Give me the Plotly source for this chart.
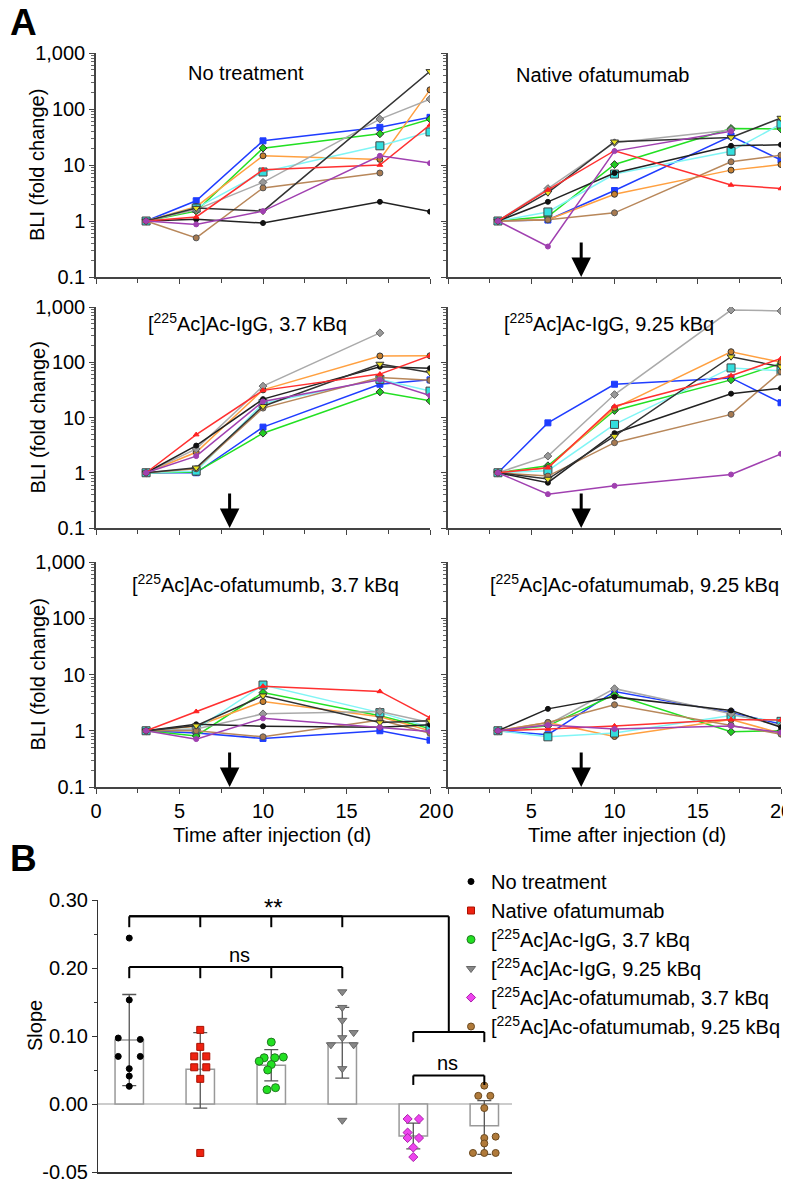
import plotly.graph_objects as go

# ---------------- DATA ----------------
days = [3, 6, 10, 17, 20]
# mouse order: blue, green, orange, cyan, gray, brown, black, black/yellow, red, purple
no_treatment = [
    [1, 2.3, 27, 47, 71],
    [1, 1.5, 20, 36, 66],
    [1, 1.8, 14.6, 12.6, 220],
    [1, 1.7, 7.5, 22, 39],
    [1, 1.6, 4.9, 66, 150],
    [1, 0.5, 3.9, 7.2, None],
    [1, 1.07, 0.92, 2.2, 1.47],
    [1, 1.7, 1.5, None, 470],
    [1, 1.18, 8.2, 10, 52],
    [1, 0.87, 1.5, 14.6, 10.8],
]
native_ofa = [
    [1, 1.04, 3.5, 33, 12.3],
    [1, 1.2, 10.2, 45, 44],
    [1, 1.05, 3.0, 8.1, 10.2],
    [1, 1.45, 6.9, 17.6, 54],
    [1, 3.8, 25, 42, None],
    [1, 1.05, 1.4, 11.4, 15],
    [1, 2.2, 7.2, 22, 23],
    [1, 3.2, 26, 31, 69],
    [1, 3.6, 18, 4.4, 3.8],
    [1, 0.35, 17.7, 40, None],
]
igg_37 = [
    [1, 1.0, 6.7, 40, 48],
    [1, 1.03, 5.2, 29, 20],
    [1, 2.35, 31.6, 130, 131],
    [1, 1.07, 18, 49, 30],
    [1, 2.7, 37, 340, None],
    [1, 1.18, 14.8, 53, 47],
    [1, 3.1, 21.5, 83, 78],
    [1, 1.23, 16, 93, 65],
    [1, 4.9, 31, 61, 131],
    [1, 2.0, 19.5, 48, 25],
]
igg_925 = [
    [1, 8.0, 40, 52, 18.5],
    [1, 1.34, 13.4, 48, 95],
    [1, 1.23, 14.8, 155, 100],
    [1, 1.09, 7.5, 79, 70],
    [1, 2.0, 26, 880, 850],
    [1, 0.87, 3.5, 11.4, 68],
    [1, 0.66, 5.2, 27, 34],
    [1, 0.77, 4.6, 126, 83],
    [1, 1.23, 16, 57, 117],
    [1, 0.41, 0.58, 0.93, 2.2],
]
ac_ofa_37 = [
    [1, 0.91, 0.73, 1.0, 0.68],
    [1, 0.81, 4.8, 1.85, 1.1],
    [1, 1.2, 3.3, 1.78, 1.0],
    [1, 1.07, 6.5, 2.1, 1.15],
    [1, 1.07, 2.0, 2.2, 1.4],
    [1, 1.0, 0.78, 1.55, 0.9],
    [1, 1.3, 1.2, 1.15, 1.28],
    [1, 1.23, 4.2, 1.4, 1.5],
    [1, 2.2, 6.2, 5.0, 1.7],
    [1, 0.71, 1.66, 1.15, 0.97],
]
ac_ofa_925 = [
    [1, 0.85, 5.0, 2.1, 1.32],
    [1, 1.22, 4.4, 0.96, 1.0],
    [1, 1.4, 0.79, 1.58, 0.9],
    [1, 0.78, 0.91, 1.86, 1.47],
    [1, 1.28, 5.6, 2.0, 1.22],
    [1, 1.4, 2.9, 1.26, 0.87],
    [1, 2.45, 4.0, 2.3, 1.15],
    [None, None, None, None, None],
    [1, 1.07, 1.22, 1.58, 1.55],
    [1, 1.26, 1.07, 1.22, 0.93],
]
panel_titles = [
    "No treatment",
    "Native ofatumumab",
    "[<sup>225</sup>Ac]Ac-IgG, 3.7 kBq",
    "[<sup>225</sup>Ac]Ac-IgG, 9.25 kBq",
    "[<sup>225</sup>Ac]Ac-ofatumumb, 3.7 kBq",
    "[<sup>225</sup>Ac]Ac-ofatumumab, 9.25 kBq",
]
treatment_day = 8
ytick_vals = [0.1, 1, 10, 100, 1000]
ytick_text = ["0.1", "1", "10", "100", "1,000"]
xtick_vals = [0, 5, 10, 15, 20]

# Panel B (slopes)
groups = [
    "No treatment",
    "Native ofatumumab",
    "[<sup>225</sup>Ac]Ac-IgG, 3.7 kBq",
    "[<sup>225</sup>Ac]Ac-IgG, 9.25 kBq",
    "[<sup>225</sup>Ac]Ac-ofatumumab, 3.7 kBq",
    "[<sup>225</sup>Ac]Ac-ofatumumab, 9.25 kBq",
]
slope_means = [0.094, 0.051, 0.057, 0.090, -0.0235, -0.016]
slope_sds = [0.067, 0.054, 0.023, 0.052, 0.0095, 0.021]
slopes_no_treatment = [0.244, 0.153, 0.097, 0.095, 0.070, 0.070, 0.052, 0.041, 0.026]
slopes_native = [0.109, 0.084, 0.070, 0.070, 0.054, 0.054, 0.037, -0.036]
slopes_igg_37 = [0.091, 0.069, 0.068, 0.068, 0.063, 0.058, 0.050, 0.024, 0.021]
slopes_igg_925 = [0.165, 0.142, 0.123, 0.105, 0.0975, 0.087, 0.087, 0.052, -0.012]
slopes_ofa_37 = [-0.011, -0.011, -0.021, -0.025, -0.025, -0.032, -0.039]
slopes_ofa_925 = [0.027, 0.012, 0.012, -0.003, -0.024, -0.025, -0.029, -0.036, -0.036, -0.036]
slope_ticks = [-0.05, 0.0, 0.10, 0.20, 0.30]

# ---------------- STYLES / LAYOUT ----------------
OFF = 8                      # page margin around the plot div
W, H = 791 - OFF, 1182 - OFF
FONT = "Liberation Sans, Arial, Helvetica, sans-serif"
FS = 20

def px(x):
    return (x - OFF) / W

def py(y):
    return 1 - (y - OFF) / H

mouse_styles = [
    dict(line="#1f3dff", sym="square", fill="#1f3dff", edge="#1f3dff", size=6),
    dict(line="#22e022", sym="diamond", fill="#22cc22", edge="#333333", size=6),
    dict(line="#ffa040", sym="circle", fill="#c8802e", edge="#333333", size=6),
    dict(line="#80f5f5", sym="square", fill="#33dede", edge="#444444", size=8),
    dict(line="#aaaaaa", sym="diamond", fill="#999999", edge="#666666", size=6),
    dict(line="#b8875a", sym="circle", fill="#a87a50", edge="#555555", size=6),
    dict(line="#222222", sym="circle", fill="#111111", edge="#111111", size=5),
    dict(line="#333333", sym="triangle-down", fill="#e8e020", edge="#333333", size=7),
    dict(line="#ff3030", sym="triangle-up", fill="#ff2020", edge="#ff2020", size=5),
    dict(line="#a040b0", sym="circle", fill="#a040b0", edge="#a040b0", size=5),
]

panels = [no_treatment, native_ofa, igg_37, igg_925, ac_ofa_37, ac_ofa_925]
col_x = [(96, 430), (448, 781)]
row_y = [(53, 277), (307, 528), (562, 787)]
title_pos = [(246, 73), (602, 75), (248, 322), (609, 322), (265, 583), (634, 583)]
has_arrow = [False, True, True, True, True, True]

fig = go.Figure()
annotations = []
layout_axes = {}

minor_log = [m * 10 ** e for e in range(-1, 3) for m in range(2, 10)]

def note(text, x, y, size=FS, angle=0, xref="paper", yref="paper", xanchor="center"):
    return dict(text=text, x=x, y=y, xref=xref, yref=yref, showarrow=False,
                xanchor=xanchor, yanchor="middle", textangle=angle,
                font=dict(size=size, color="black"))

for i, data in enumerate(panels):
    n = i + 1
    r, c = divmod(i, 2)
    xa = "x" if n == 1 else f"x{n}"
    ya = "y" if n == 1 else f"y{n}"
    for mouse, st in zip(data, mouse_styles):
        if all(v is None for v in mouse):
            continue
        fig.add_trace(go.Scatter(
            x=days, y=mouse, xaxis=xa, yaxis=ya, mode="lines+markers",
            connectgaps=True, showlegend=False,
            line=dict(color=st["line"], width=1.5),
            marker=dict(symbol=st["sym"], color=st["fill"], size=st["size"],
                        line=dict(color=st["edge"], width=1)),
        ))
    x0, x1 = col_x[c]
    y0, y1 = row_y[r]
    layout_axes[f"xaxis{'' if n == 1 else n}"] = dict(
        domain=[px(x0), px(x1)], anchor=ya, range=[0, 20], showgrid=False,
        zeroline=False, showline=True, linecolor="#444", linewidth=1.5,
        ticks="outside", ticklen=5, tickcolor="#444", tickwidth=1.2,
        tickvals=xtick_vals, showticklabels=(r == 2), automargin=False,
        ticklabeloverflow="allow",
        tickfont=dict(size=FS, color="black"),
        minor=dict(tickmode="array", tickvals=[2.5, 7.5, 12.5, 17.5],
                   ticks="outside", ticklen=4, tickcolor="#444"),
    )
    layout_axes[f"yaxis{'' if n == 1 else n}"] = dict(
        domain=[py(y1), py(y0)], anchor=xa, type="log", range=[-1, 3],
        showgrid=False, zeroline=False, showline=True, linecolor="#444",
        linewidth=1.5, ticks="outside", ticklen=5, tickcolor="#444", tickwidth=1.2,
        tickvals=ytick_vals, ticktext=ytick_text, showticklabels=(c == 0),
        automargin=False, ticklabeloverflow="allow",
        tickfont=dict(size=FS, color="black"),
        minor=dict(tickmode="array", tickvals=minor_log, ticks="outside",
                   ticklen=3, tickcolor="#666"),
    )
    tx, ty = title_pos[i]
    annotations.append(note(panel_titles[i], px(tx), py(ty)))
    if has_arrow[i]:
        annotations.append(dict(text="", x=treatment_day, y=-1, xref=xa, yref=ya,
                                ax=0, ay=-36, showarrow=True, arrowhead=2,
                                arrowsize=1.3, arrowwidth=3, arrowcolor="black",
                                standoff=0))

# y titles of panel A
for r in range(3):
    yc = (row_y[r][0] + row_y[r][1]) / 2
    annotations.append(note("BLI (fold change)", px(37), py(yc), angle=-90))
# x titles
for xc in (272, 627):
    annotations.append(note("Time after injection (d)", px(xc), py(835)))
# panel letters
annotations.append(note("<b>A</b>", 0, py(22), size=37, xanchor="left"))
annotations.append(note("<b>B</b>", 0, py(858), size=37, xanchor="left"))

# ---------------- PANEL B ----------------
def disp(v):
    # broken axis: below zero the scale is doubled
    return v if v >= 0 else 2 * v

group_points = [slopes_no_treatment, slopes_native, slopes_igg_37, slopes_igg_925,
                slopes_ofa_37, slopes_ofa_925]
jitter = [
    [0, 0, -0.155, 0.155, -0.155, 0.155, 0, 0, 0],
    [0, 0, -0.085, 0.085, -0.085, 0.085, 0, 0],
    [0, 0.17, 0.05, -0.1, -0.17, 0, -0.05, 0.06, -0.06],
    [0, 0, 0, 0.16, 0, -0.16, 0.16, 0, 0],
    [-0.08, 0.08, -0.08, -0.08, 0.08, 0, 0],
    [0, -0.085, 0.085, 0, 0.16, 0, 0, -0.16, 0, 0.16],
]
group_styles = [
    dict(sym="circle", fill="#000000", edge="#000000", size=6),
    dict(sym="square", fill="#ee2211", edge="#aa1100", size=7),
    dict(sym="circle", fill="#22e022", edge="#227722", size=8),
    dict(sym="triangle-down", fill="#888888", edge="#666666", size=8),
    dict(sym="diamond", fill="#ee44ee", edge="#aa22aa", size=7),
    dict(sym="circle", fill="#b07a3a", edge="#6b4a20", size=7),
]

cats = list(range(len(groups)))
fig.add_trace(go.Bar(
    x=cats, y=[disp(m) for m in slope_means], width=0.4, xaxis="x7", yaxis="y7",
    marker=dict(color="white", line=dict(color="#999999", width=1.5)),
    showlegend=False,
    error_y=dict(type="data", symmetric=False,
                 array=[disp(m + s) - disp(m) for m, s in zip(slope_means, slope_sds)],
                 arrayminus=[disp(m) - disp(m - s) for m, s in zip(slope_means, slope_sds)],
                 color="#555555", thickness=1.3, width=7),
))
for k, (pts, jit, st) in enumerate(zip(group_points, jitter, group_styles)):
    fig.add_trace(go.Scatter(
        x=[k + j for j in jit], y=[disp(v) for v in pts], xaxis="x7", yaxis="y7",
        mode="markers", name=groups[k], showlegend=True,
        marker=dict(symbol=st["sym"], color=st["fill"], size=st["size"],
                    line=dict(color=st["edge"], width=1)),
    ))

# significance brackets (stem x positions, bar height, stem bottom) in axis units
def bracket(xs, ytop, ybot):
    for xv in xs:
        fig.add_shape(type="line", xref="x7", yref="y7", x0=xv, x1=xv, y0=ytop,
                      y1=ybot, line=dict(color="black", width=2))
    fig.add_shape(type="line", xref="x7", yref="y7", x0=min(xs), x1=max(xs),
                  y0=ytop, y1=ytop, line=dict(color="black", width=2))

bracket([0, 1, 2, 3], 0.2015, 0.185)
bracket([4, 5], 0.042, 0.028)
bracket([4, 5], 0.106, 0.091)
bracket([0, 1, 2, 3], 0.276, 0.26)
fig.add_shape(type="line", xref="x7", yref="y7", x0=0, x1=4.5, y0=0.276, y1=0.276,
              line=dict(color="black", width=2))
fig.add_shape(type="line", xref="x7", yref="y7", x0=4.5, x1=4.5, y0=0.276, y1=0.106,
              line=dict(color="black", width=2))

annotations.append(note("**", 2.03, 0.289, size=24, xref="x7", yref="y7"))
annotations.append(note("ns", 1.55, 0.219, xref="x7", yref="y7"))
annotations.append(note("ns", 4.48, 0.061, xref="x7", yref="y7"))
annotations.append(note("Slope", px(35), py(1026), angle=-90))

layout_axes["xaxis7"] = dict(
    domain=[px(98), px(512)], anchor="y7", range=[-0.44, 5.39], showgrid=False,
    zeroline=False, showline=True, linecolor="#333", linewidth=1.5,
    showticklabels=False, ticks="", automargin=False,
)
layout_axes["yaxis7"] = dict(
    domain=[py(1172), py(900)], anchor="x7", range=[-0.1, 0.3], showgrid=False,
    zeroline=True, zerolinecolor="#cccccc", zerolinewidth=1.5,
    showline=True, linecolor="#333", linewidth=1.2, automargin=False,
    ticklabeloverflow="allow",
    ticks="outside", ticklen=5, tickcolor="#333",
    tickvals=[disp(t) for t in slope_ticks],
    ticktext=[f"{t:.2f}" for t in slope_ticks],
    tickfont=dict(size=FS, color="black"),
    minor=dict(tickmode="array", tickvals=[0.05, 0.15, 0.25], ticks="outside",
               ticklen=3, tickcolor="#333"),
)

fig.update_layout(
    width=W, height=H, margin=dict(l=0, r=0, t=0, b=0, autoexpand=False),
    paper_bgcolor="white", plot_bgcolor="white",
    font=dict(family=FONT, size=FS, color="black"),
    annotations=annotations,
    legend=dict(x=px(451), y=py(862), xanchor="left", yanchor="top",
                font=dict(size=FS), bgcolor="rgba(0,0,0,0)", tracegroupgap=0,
                itemwidth=30),
    **layout_axes,
)

fig.write_html("out.html")
